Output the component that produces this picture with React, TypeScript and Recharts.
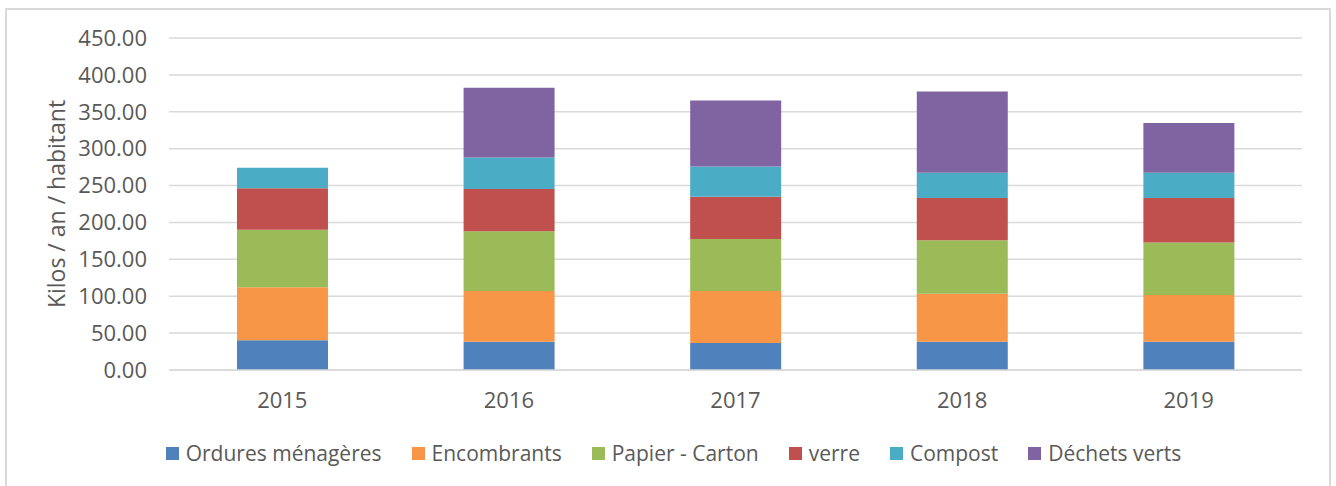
import { BarChart, Bar, XAxis, YAxis, CartesianGrid, Legend } from "recharts";

// Categories (years)
const years = ["2015", "2016", "2017", "2018", "2019"];

// Series values, kilos / an / habitant
const orduresMenageres = [40.3, 38.4, 36.6, 38.4, 38.4];
const encombrants = [71.9, 68.8, 70.6, 65.1, 63.4];
const papierCarton = [77.8, 81.0, 70.5, 72.5, 70.9];
const verre = [56.5, 57.0, 57.0, 57.0, 60.3];
const compost = [27.5, 42.8, 41.2, 34.3, 34.3];
const dechetsVerts = [0, 94.6, 89.5, 110.3, 67.4];

// Y axis ticks
const yTicks = [0, 50, 100, 150, 200, 250, 300, 350, 400, 450];

// Series config (legend order = stack order)
const series = [
  { key: "om", name: "Ordures ménagères", color: "#4f81bd", values: orduresMenageres },
  { key: "enc", name: "Encombrants", color: "#f79646", values: encombrants },
  { key: "pap", name: "Papier - Carton", color: "#9bbb59", values: papierCarton },
  { key: "verre", name: "verre", color: "#c0504d", values: verre },
  { key: "compost", name: "Compost", color: "#4bacc6", values: compost },
  { key: "dv", name: "Déchets verts", color: "#8064a2", values: dechetsVerts },
];

const data = years.map((year, i) => {
  const row: Record<string, string | number> = { year };
  series.forEach((s) => {
    row[s.key] = s.values[i];
  });
  return row;
});

const FONT = "'Open Sans', sans-serif";
const TEXT = "#595959";
const GRID = "#d9d9d9";

// Legend laid out like the Excel one: small square + label
const renderLegend = () => (
  <div
    style={{
      display: "flex",
      justifyContent: "center",
      alignItems: "center",
      gap: 30,
      height: 66,
      fontFamily: FONT,
      fontSize: 21,
      color: TEXT,
      paddingLeft: 25,
    }}
  >
    {series.map((s) => (
      <div key={s.key} style={{ display: "flex", alignItems: "center" }}>
        <span style={{ width: 13, height: 13, background: s.color, marginRight: 7, display: "inline-block" }} />
        <span>{s.name}</span>
      </div>
    ))}
  </div>
);

// Rotated y-axis title
const renderYLabel = (props: any) => {
  const vb = props.viewBox || {};
  const cx = vb.x + 36;
  const cy = vb.y + vb.height / 2;
  return (
    <text
      x={cx}
      y={cy}
      transform={`rotate(-90, ${cx}, ${cy})`}
      textAnchor="middle"
      dominantBaseline="central"
      fill={TEXT}
      fontFamily={FONT}
      fontSize={23}
    >
      Kilos / an / habitant
    </text>
  );
};

const App = () => {
  return (
    <div style={{ position: "relative", width: 1336, height: 486, overflow: "hidden", background: "#fff" }}>
      <style>{`body{margin:0}`}</style>
      {/* chart area border */}
      <div
        style={{
          position: "absolute",
          left: 5,
          top: 8,
          width: 1322,
          height: 500,
          border: `2px solid ${GRID}`,
        }}
      />
      <BarChart
        width={1336}
        height={486}
        data={data}
        margin={{ top: 38, right: 34, left: 20, bottom: 0 }}
        barCategoryGap="30%"
      >
        <CartesianGrid vertical={false} stroke={GRID} strokeWidth={1.5} />
        <XAxis
          dataKey="year"
          height={50}
          axisLine={{ stroke: GRID, strokeWidth: 1.5 }}
          tickLine={false}
          tickSize={0}
          tickMargin={22}
          tick={{ fill: TEXT, fontFamily: FONT, fontSize: 22 }}
        />
        <YAxis
          width={149}
          domain={[0, 450]}
          ticks={yTicks}
          interval={0}
          axisLine={false}
          tickLine={false}
          tickSize={0}
          tickMargin={22}
          tickFormatter={(v: number) => v.toFixed(2)}
          tick={{ fill: TEXT, fontFamily: FONT, fontSize: 22 }}
          label={{ content: renderYLabel }}
        />
        <Legend verticalAlign="bottom" height={66} content={renderLegend} />
        {series.map((s) => (
          <Bar
            key={s.key}
            dataKey={s.key}
            name={s.name}
            stackId="a"
            fill={s.color}
            isAnimationActive={false}
          />
        ))}
      </BarChart>
    </div>
  );
};

export default App;
